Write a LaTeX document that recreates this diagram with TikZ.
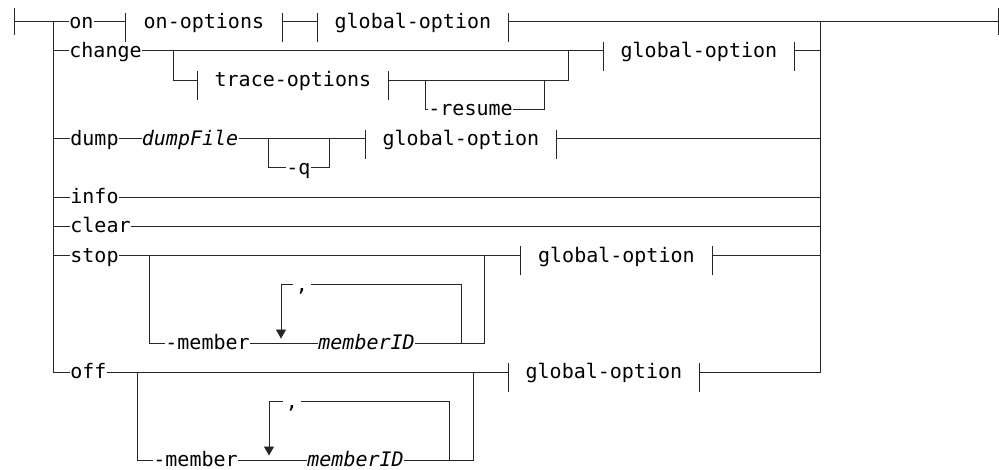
\documentclass[tikz,border=0pt]{standalone}
\usepackage{fontspec}
\setmonofont{DejaVu Sans Mono}
\usetikzlibrary{arrows.meta}
\newcommand\synfont{\ttfamily\fontsize{20}{24}\selectfont}

\begin{document}
\begin{tikzpicture}[
  x=1pt, y=-1pt,
  line width=0.8pt, color=black!85,
  txt/.style={font=\synfont, text=black, inner sep=0pt, text height=14pt,
              text depth=0.8pt, anchor=west},
  var/.style={txt, font=\synfont\itshape},
  frag/.style={txt, minimum width=191pt},
  comma/.style={txt, anchor=center, inner xsep=3pt},
  arr/.style={-{Triangle[width=10pt,length=9pt]}, shorten >=4.5pt},
]
\useasboundingbox (0,0) rectangle (999,470);

% rails and ends
\coordinate (start) at (14,21.7);
\coordinate (lt)    at (53,21.7);
\coordinate (rt)    at (820,21.7);
\coordinate (stop end) at (998,21.7);

% on
\node[txt] (on) at (69,21.7) {on};
\node[frag, minimum width=157pt] (onopt) at (125,21.7) {on-options};
\node[frag] (onglob) at (317,21.7) {global-option};

% change
\node[txt] (change) at (69,50.9) {change};
\node[frag] (chglob) at (603,50.9) {global-option};
\node[frag] (trace) at (197,80.1) {trace-options};
\node[txt] (resume) at (428,109.4) {-resume};
\coordinate (chs) at (173,50.9);
\coordinate (chj) at (568,50.9);
\coordinate (trs) at (425,80.1);
\coordinate (trj) at (544,80.1);

% dump
\node[txt] (dump) at (70,138.6) {dump};
\node[var] (dumpfile) at (141.5,138.6) {dumpFile};
\node[txt] (q) at (286,167.8) {-q};
\node[frag] (dumpglob) at (365,138.6) {global-option};
\coordinate (dps) at (268,138.6);
\coordinate (dpj) at (329,138.6);

% info, clear
\node[txt] (info) at (70,197) {info};
\node[txt] (clear) at (70,226.2) {clear};

% stop
\node[txt] (stop) at (70,255.5) {stop};
\node[frag] (stopglob) at (520.5,255.5) {global-option};
\node[txt] (stopmem) at (165,343.1) {-member};
\node[var] (stopid) at (318,343.1) {memberID};
\node[comma] (stopcom) at (302,284.7) {,};
\coordinate (sts) at (149,255.5);
\coordinate (stj) at (484,255.5);
\coordinate (stl) at (281,284.7);
\coordinate (str) at (461,284.7);

% off
\node[txt] (off) at (70,372.3) {off};
\node[frag] (offglob) at (508,372.3) {global-option};
\node[txt] (offmem) at (153,460) {-member};
\node[var] (offid) at (307,460) {memberID};
\node[comma] (offcom) at (292,401.6) {,};
\coordinate (ofs) at (137,372.3);
\coordinate (ofj) at (473,372.3);
\coordinate (ofl) at (269,401.6);
\coordinate (ofr) at (449,401.6);

% end markers
\draw (start) ++(0,-13.4) -- ++(0,26.7);
\draw (stop end) ++(0,-13.4) -- ++(0,26.7);
\draw[line width=1.2pt, black] (start) ++(9,0) -- ++(7,0);
\draw[line width=1.2pt, black] (rt) ++(5,0) -- ++(24,0);

% fragment bars
\foreach \f in {onopt,onglob,chglob,trace,dumpglob,stopglob,offglob} {
  \draw (\f.west) ++(0,-9) -- ++(0,29);
  \draw (\f.east) ++(0,-9) -- ++(0,29);
}

% main line and rails
\draw (start) -- (on.west);
\draw (on.east) -- (onopt.west);
\draw (onopt.east) -- (onglob.west);
\draw (onglob.east) -- (stop end);
\draw (lt) |- (off.west);
\draw (offglob.east) -| (rt);

% change row
\draw (lt |- change.west) -- (change.west);
\draw (change.east) -- (chglob.west);
\draw (chglob.east) -- (rt |- chglob.east);
\draw (chs) |- (trace.west);
\draw (trace.east) -| (chj);
\draw (trs) |- (resume.west);
\draw (resume.east) -| (trj);

% dump row
\draw (lt |- dump.west) -- (dump.west);
\draw (dump.east) -- (dumpfile.west);
\draw (dumpfile.east) -- (dumpglob.west);
\draw (dumpglob.east) -- (rt |- dumpglob.east);
\draw (dps) |- (q.west);
\draw (q.east) -| (dpj);

% info, clear rows
\draw (lt |- info.west) -- (info.west);
\draw (info.east) -- (rt |- info.east);
\draw (lt |- clear.west) -- (clear.west);
\draw (clear.east) -- (rt |- clear.east);

% stop row
\draw (lt |- stop.west) -- (stop.west);
\draw (stop.east) -- (stopglob.west);
\draw (stopglob.east) -- (rt |- stopglob.east);
\draw (sts) |- (stopmem.west);
\draw (stopmem.east) -- (stopid.west);
\draw (stopid.east) -| (stj);
\draw (str |- stopid.east) -- (str) -- (stopcom.east);
\draw[arr] (stopcom.west) -| (stl |- stopid.west);

% off row
\draw (off.east) -- (offglob.west);
\draw (ofs) |- (offmem.west);
\draw (offmem.east) -- (offid.west);
\draw (offid.east) -| (ofj);
\draw (ofr |- offid.east) -- (ofr) -- (offcom.east);
\draw[arr] (offcom.west) -| (ofl |- offid.west);
\end{tikzpicture}
\end{document}
